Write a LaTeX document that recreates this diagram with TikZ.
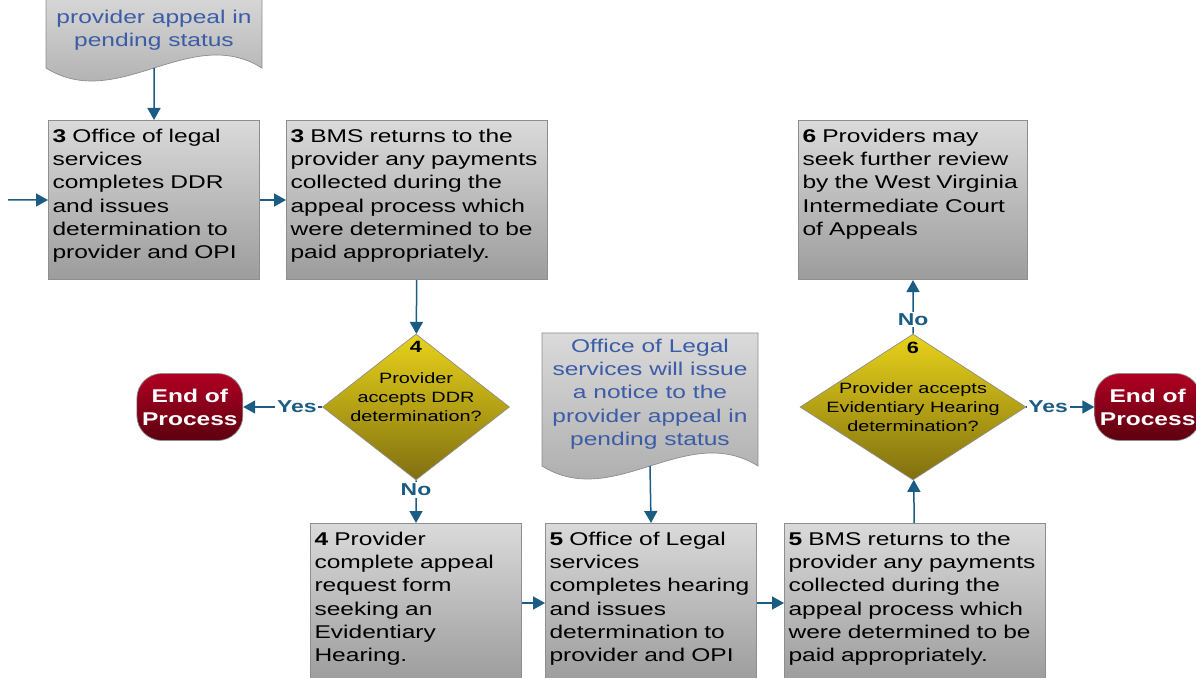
\documentclass[tikz,border=0pt]{standalone}
\usepackage{fontspec}
\setmainfont{Liberation Sans}[FakeStretch=1.33]
\usetikzlibrary{arrows.meta, positioning, shapes.geometric}

\definecolor{flowblue}{HTML}{1B5C84}
\definecolor{notetext}{HTML}{3B5CA6}
\definecolor{boxtop}{HTML}{DADADA}
\definecolor{boxbottom}{HTML}{9C9C9C}
\definecolor{boxline}{HTML}{8E8E8E}
\definecolor{dectop}{HTML}{E8D31A}
\definecolor{decbottom}{HTML}{806F10}
\definecolor{endtop}{HTML}{B20022}
\definecolor{endbottom}{HTML}{5C0010}

\begin{document}
\begin{tikzpicture}[
		x=0.02cm, y=-0.02cm,
		block/.style={
			draw=boxline,
			line width=0.6pt,
			top color=boxtop,
			bottom color=boxbottom,
			anchor=north west,
			align=left,
			text width=#1,
			inner xsep=0.08cm,
			inner ysep=0pt,
			text height=0.43cm,
			text depth=2.75cm,
			font=\fontsize{10.5}{13.3}\selectfont
		},
		decision/.style={
			diamond,
			draw=boxline,
			top color=dectop,
			bottom color=decbottom,
			inner sep=0pt
		},
		stop/.style={
			draw=boxline,
			top color=endtop,
			bottom color=endbottom,
			rounded corners=0.5cm,
			minimum width=2.12cm,
			minimum height=1.34cm,
			inner sep=0pt,
			align=center,
			text=white,
			font=\fontsize{10.5}{13.1}\selectfont\bfseries
		},
		note/.style={
			draw=boxline,
			top color=boxtop,
			bottom color=boxbottom!90!white
		},
		notetext/.style={
			align=center,
			text=notetext,
			font=\fontsize{10.5}{13.3}\selectfont
		},
		qtext/.style={align=center, font=\fontsize{8.5}{11}\selectfont},
		qnum/.style={font=\fontsize{9.3}{11}\selectfont\bfseries},
		answer/.style={
			fill=white,
			inner sep=1pt,
			text=flowblue,
			font=\fontsize{9.8}{12}\selectfont\bfseries
		},
		arrow/.style={-{Triangle[length=0.24cm, width=0.26cm]}, draw=flowblue, line width=0.03cm}
		]
		
		\useasboundingbox (0,0) rectangle (1196,678);
		
		% notices (document shapes)
		\draw[note] (46,-10) -- (262,-10) -- (262,68)
			.. controls (190,23) and (118,113) .. (46,68) -- cycle;
		\node[notetext] (note1) at (154,30) {provider appeal in\\pending status};
		\coordinate (note1tip) at (154,68);
		
		\draw[note] (542,333) -- (758,333) -- (758,466)
			.. controls (686,421) and (614,511) .. (542,466) -- cycle;
		\node[notetext] (note2) at (650,394) {Office of Legal\\services will issue\\a notice to the\\provider appeal in\\pending status};
		\coordinate (note2tip) at (650,466);
		
		% top row
		\node[block=4.06cm] (s3legal) at (48,120)
		{\textbf{3} Office of legal\\services\\completes DDR\\and issues\\determination to\\provider and OPI};
		
		\node[block=5.06cm, right=0.52cm of s3legal] (s3refund)
		{\textbf{3} BMS returns to the\\provider any payments\\collected during the\\appeal process which\\were determined to be\\paid appropriately.};
		
		\node[block=4.42cm] (s6review) at (798,120)
		{\textbf{6} Providers may\\seek further review\\by the West Virginia\\Intermediate Court\\of Appeals};
		
		% decisions
		\node[decision, minimum width=3.74cm, minimum height=2.92cm] (q4) at (416,407) {};
		\node[qnum] (q4num) at (416,347) {4};
		\node[qtext] (q4text) at (416,397) {Provider\\accepts DDR\\determination?};
		
		\node[decision, minimum width=4.52cm, minimum height=2.92cm] (q6) at (913,407) {};
		\node[qnum] (q6num) at (913,348) {6};
		\node[qtext] (q6text) at (913,407) {Provider accepts\\Evidentiary Hearing\\determination?};
		
		\node[stop, left=1.58cm of q4] (endL) {End of\\Process};
		\node[stop, right=1.36cm of q6] (endR) {End of\\Process};
		
		% bottom row
		\node[block=4.06cm] (s4request) at (310,523)
		{\textbf{4} Provider\\complete appeal\\request form\\seeking an\\Evidentiary\\Hearing.};
		
		\node[block=4.06cm, right=0.46cm of s4request] (s5hearing)
		{\textbf{5} Office of Legal\\services\\completes hearing\\and issues\\determination to\\provider and OPI};
		
		\node[block=5.06cm, right=0.54cm of s5hearing] (s5refund)
		{\textbf{5} BMS returns to the\\provider any payments\\collected during the\\appeal process which\\were determined to be\\paid appropriately.};
		
		\coordinate (entry) at (8,200);
		
		\draw[arrow] (entry) -- (s3legal);
		\draw[arrow] (note1tip) -- (s3legal.north);
		\draw[arrow] (s3legal) -- (s3refund);
		\draw[arrow] (s3refund) -- (q4);
		\draw[arrow] (q4) -- node[answer, pos=0.32] {Yes} (endL);
		\draw[arrow] (q4) -- node[answer, pos=0.23] {No} (s4request);
		
		\draw[arrow] (s4request) -- (s5hearing);
		\draw[arrow] (note2tip) -- (s5hearing.north);
		\draw[arrow] (s5hearing) -- (s5refund);
		\draw[arrow] (s5refund) -- (q6);
		\draw[arrow] (q6) -- node[answer, pos=0.26] {No} (s6review);
		\draw[arrow] (q6) -- node[answer, pos=0.32] {Yes} (endR);
		
	\end{tikzpicture}
\end{document}
